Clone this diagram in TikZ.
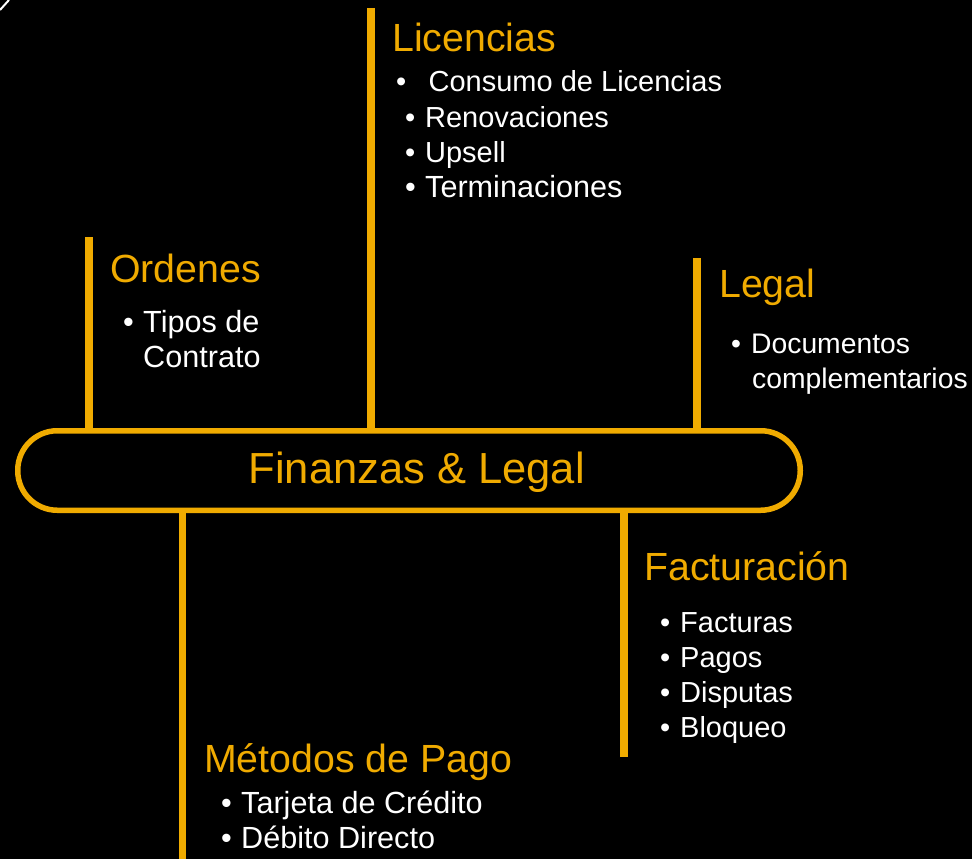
\documentclass[tikz,border=0pt]{standalone}
\usepackage{fontspec}
\setmainfont{Liberation Sans}
\definecolor{oro}{RGB}{240,171,0}
\newcommand{\itm}[2][20pt]{\makebox[#1][l]{•}#2}

\begin{document}
\begin{tikzpicture}[x=1pt, y=-1pt, line join=round,
  rama/.style={oro, line width=7.5pt},
  titulo/.style={anchor=base west, inner sep=0pt, text=oro, font=\fontsize{39.3}{46}\selectfont},
  punto/.style={anchor=base west, inner sep=0pt, text=white, align=left, font=\fontsize{29}{35}\selectfont},
  ancho/.style={font=\fontsize{30.6}{35}\selectfont},
  estrecho/.style={font=\fontsize{28.3}{35}\selectfont}]
  % fondo
  \fill[black] (0,0) rectangle (972,859);
  \useasboundingbox (0,0) rectangle (972,859);
  \coordinate (esqA) at (0,10);
  \coordinate (esqB) at (9,0);
  \draw[white, line width=2pt] (esqA) -- (esqB);
  % centro
  \node[draw=oro, line width=5.5pt, rounded corners=39.5pt, minimum width=782.5pt, minimum height=79.5pt, inner sep=0pt] (hub) at (409,470.5) {};
  \node[anchor=base west, inner sep=0pt, text=oro, font=\fontsize{43.5}{52}\selectfont] (hubtxt) at (248.5,483) {Finanzas \& Legal};
  % ramas
  \coordinate (licTop) at (371,8);
  \coordinate (ordTop) at (89,237);
  \coordinate (legTop) at (697,258);
  \coordinate (facBot) at (624,757);
  \coordinate (metBot) at (182.5,859);
  \draw[rama] (licTop) -- (licTop |- hub.north);
  \draw[rama] (ordTop) -- (ordTop |- hub.north);
  \draw[rama] (legTop) -- (legTop |- hub.north);
  \draw[rama] (facBot |- hub.south) -- (facBot);
  \draw[rama] (metBot |- hub.south) -- (metBot);
  % Licencias
  \node[titulo] (lic) at (392,52) {Licencias};
  \node[punto] (lic1) at (396,92) {\itm[32.5pt]{Consumo de Licencias}};
  \node[punto] (lic2) at (405,127) {\itm{Renovaciones}};
  \node[punto] (lic3) at (405,162) {\itm{Upsell}};
  \node[punto, ancho] (lic4) at (405,197) {\itm{Terminaciones}};
  % Ordenes
  \node[titulo] (ord) at (110,282) {Ordenes};
  \node[punto, ancho] (ord1) at (123,367) {\itm{Tipos de}\\\hspace*{20pt}Contrato};
  % Legal
  \node[titulo] (leg) at (719,297) {Legal};
  \node[punto, estrecho] (leg1) at (731,388) {\itm{Documentos}\\\hspace*{21pt}complementarios};
  % Facturacion
  \node[titulo] (fac) at (644,580) {Facturación};
  \node[punto] (fac1) at (660,632) {\itm{Facturas}};
  \node[punto] (fac2) at (660,667) {\itm{Pagos}};
  \node[punto] (fac3) at (660,702) {\itm{Disputas}};
  \node[punto] (fac4) at (660,737) {\itm{Bloqueo}};
  % Metodos de pago
  \node[titulo] (met) at (204,772) {Métodos de Pago};
  \node[punto, ancho] (met1) at (221,813) {\itm{Tarjeta de Crédito}};
  \node[punto, ancho] (met2) at (221,848) {\itm{Débito Directo}};
\end{tikzpicture}
\end{document}
